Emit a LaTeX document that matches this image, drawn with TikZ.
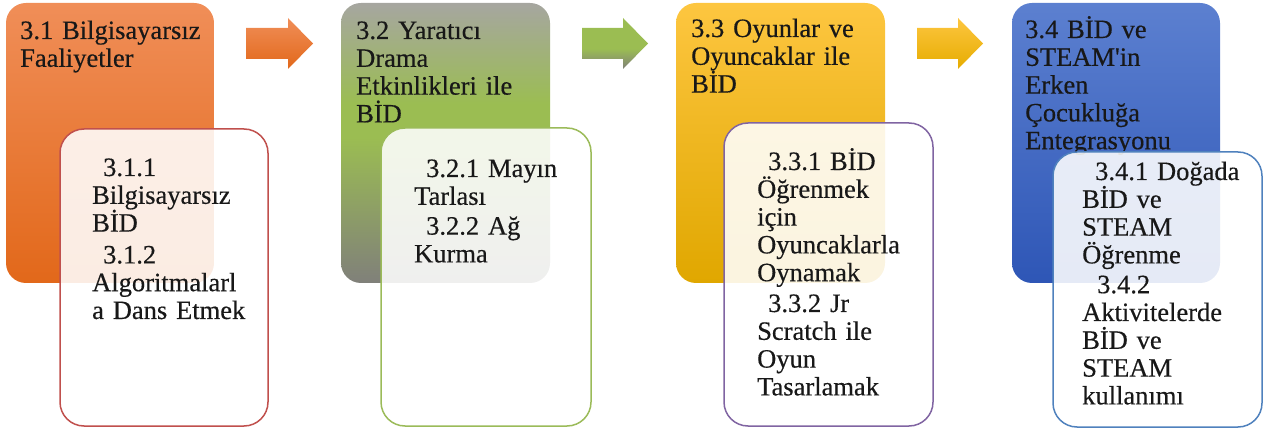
\documentclass[tikz,border=0pt]{standalone}
\usepackage{fontspec}
\setmainfont{Liberation Serif}[FakeBold=0.4]
\newfontfamily\qfont{Liberation Serif}[Ligatures=Common,FakeBold=0.4]
\definecolor{txt}{RGB}{24,24,24}
\definecolor{orT}{RGB}{240,142,88}
\definecolor{orM}{RGB}{243,127,45}
\definecolor{orB}{RGB}{226,104,26}
\definecolor{grT}{RGB}{166,166,160}
\definecolor{grM}{RGB}{155,189,82}
\definecolor{grB}{RGB}{128,128,122}
\definecolor{yeT}{RGB}{253,198,64}
\definecolor{yeM}{RGB}{255,192,0}
\definecolor{yeB}{RGB}{224,167,0}
\definecolor{blT}{RGB}{92,128,208}
\definecolor{blM}{RGB}{62,105,198}
\definecolor{blB}{RGB}{46,86,182}
\definecolor{redb}{RGB}{192,80,77}
\definecolor{greenb}{RGB}{155,187,89}
\definecolor{purpb}{RGB}{128,100,162}
\definecolor{blueb}{RGB}{79,129,189}
\pgfdeclareverticalshading{greenbox}{100bp}{color(0bp)=(grB); color(25bp)=(grB); color(51bp)=(grM); color(57bp)=(grM); color(75bp)=(grT); color(100bp)=(grT)}
\pgfdeclareverticalshading{greenarrow}{100bp}{color(0bp)=(grB); color(25bp)=(grB); color(45bp)=(grM); color(75bp)=(grM); color(100bp)=(grM)}
\begin{document}
\begin{tikzpicture}[x=1pt,y=-1pt,
  hdr/.style={anchor=base west, inner sep=0pt, text width=220pt,
    execute at begin node={\raggedright},
    font=\fontsize{26.5}{27.8}\selectfont, text=txt},
  outbox/.style={rounded corners=20pt},
  inbox/.style={rounded corners=24pt, line width=1.5pt, fill=white, fill opacity=0.88},
  blockarrow/.style={draw=none}]
\useasboundingbox (0,0) rectangle (1266,430);
% column 1
\shade[outbox, top color=orT, middle color=orM, bottom color=orB] (6,3) rectangle (214,283);
\node[hdr] (h1) at (20,39) {3.1 Bilgisayarsız\\Faaliyetler};
\draw[inbox, draw=redb] (60,129) rectangle (268,426);
\node[hdr] (i1) at (92,176) {\hspace*{11pt}3.1.1\\Bilgisayarsız\\BİD\\[4pt]\hspace*{11pt}3.1.2\\Algoritmalarl\\a Dans Etmek};
% column 2
\shade[outbox, shading=greenbox] (341,3) rectangle (550,283);
\node[hdr] (h2) at (356,39) {3.2 Yaratıcı\\Drama\\Etkinlikleri ile\\BİD};
\draw[inbox, draw=greenb] (381,128) rectangle (591,426);
\node[hdr] (i2) at (414,177) {\hspace*{12pt}3.2.1 Mayın\\Tarlası\\[2pt]\hspace*{12pt}3.2.2 Ağ\\Kurma};
% column 3
\shade[outbox, top color=yeT, middle color=yeM, bottom color=yeB] (676,3) rectangle (885,283);
\node[hdr] (h3) at (691,37) {3.3 Oyunlar ve\\Oyuncaklar ile\\BİD};
\draw[inbox, draw=purpb] (724,123) rectangle (933,426);
\node[hdr] (i3) at (757,170) {\hspace*{11pt}3.3.1 BİD\\Öğrenmek\\için\\Oyuncaklarla\\Oynamak\\[3pt]\hspace*{11pt}3.3.2 Jr\\Scratch ile\\Oyun\\Tasarlamak};
% column 4
\shade[outbox, top color=blT, middle color=blM, bottom color=blB] (1012,3) rectangle (1220,283);
\node[hdr] (h4) at (1025,38) {3.4 BİD ve\\STEAM{\qfont '}in\\Erken\\Çocukluğa\\Entegrasyonu};
\draw[inbox, draw=blueb] (1053,152) rectangle (1262,427);
\node[hdr] (i4) at (1082,180) {\hspace*{13pt}3.4.1 Doğada\\BİD ve\\STEAM\\Öğrenme\\[2pt]\hspace*{15pt}3.4.2\\Aktivitelerde\\BİD ve\\STEAM\\kullanımı};
% block arrows
\shade[blockarrow, top color=orT, bottom color=orB] (246,28) -- (288,28) -- (288,18) -- (313,43.5) -- (288,69) -- (288,59) -- (246,59) -- cycle;
\shade[blockarrow, shading=greenarrow] (582,28) -- (623,28) -- (623,18) -- (648,43.5) -- (623,69) -- (623,59) -- (582,59) -- cycle;
\shade[blockarrow, top color=yeT, middle color=yeM, bottom color=yeB!80!yeM] (917,28) -- (958,28) -- (958,18) -- (983,43.5) -- (958,69) -- (958,59) -- (917,59) -- cycle;
\end{tikzpicture}
\end{document}
